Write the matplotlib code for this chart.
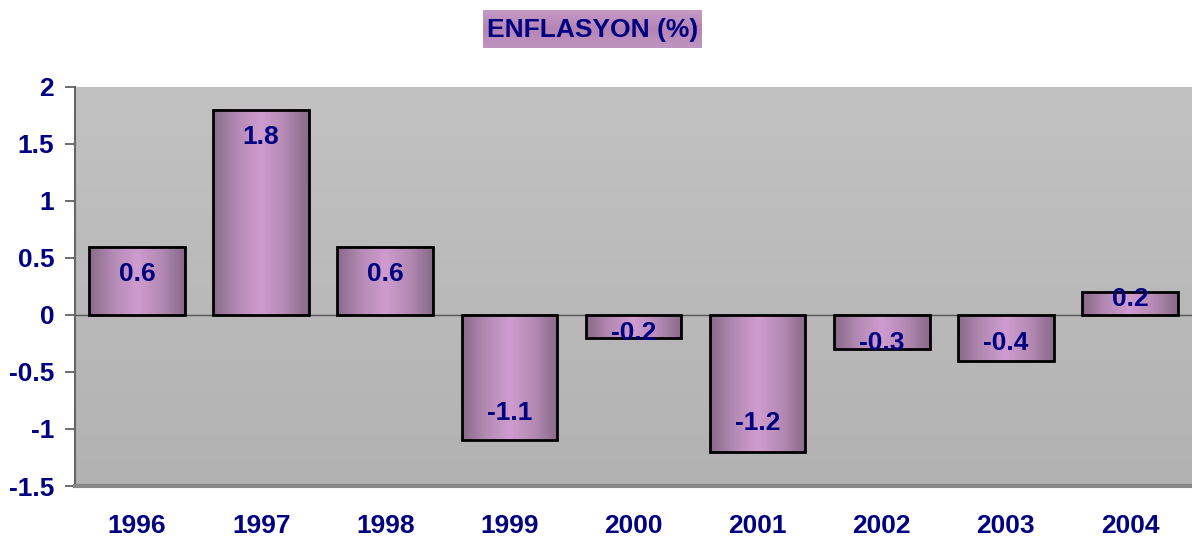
import matplotlib
matplotlib.use("Agg")
import matplotlib.pyplot as plt
import numpy as np
from matplotlib.colors import LinearSegmentedColormap

# Data
years = ["1996", "1997", "1998", "1999", "2000", "2001", "2002", "2003", "2004"]
values = [0.6, 1.8, 0.6, -1.1, -0.2, -1.2, -0.3, -0.4, 0.2]
yticks = [2, 1.5, 1, 0.5, 0, -0.5, -1, -1.5]

# where each value label sits relative to the bar end (data units)
label_offsets = [-0.24, -0.24, -0.24, 0.24, 0.04, 0.25, 0.05, 0.15, -0.06]

navy = "#000080"
plt.rcParams["font.family"] = ["Liberation Sans", "DejaVu Sans"]
plt.rcParams["font.weight"] = "bold"

fig = plt.figure(figsize=(11.92, 5.42), dpi=100)
ax = fig.add_axes([75 / 1192, 1 - 486 / 542, (1192 - 75) / 1192, (486 - 87) / 542])

x = np.arange(len(years))
ax.set_xlim(-0.5, len(years) - 0.5)
ax.set_ylim(-1.5, 2)

# plot area background: soft vertical gray gradient
bg = np.linspace(0, 1, 256).reshape(-1, 1)
bg_cmap = LinearSegmentedColormap.from_list("bg", ["#c2c2c2", "#b2b2b2"])
ax.imshow(bg, cmap=bg_cmap, extent=[0, 1, 0, 1], transform=ax.transAxes,
          aspect="auto", zorder=0, origin="upper")

# bars, then a horizontal purple gradient clipped into each one
bars = ax.bar(x, values, width=0.77, color="none", edgecolor="black", linewidth=2, zorder=3)
bar_cmap = LinearSegmentedColormap.from_list(
    "bar", ["#896a89", "#b48ab4", "#cf9ccf", "#b48ab4", "#896a89"])
grad = np.linspace(0, 1, 256).reshape(1, -1)
for b in bars:
    x0, y0 = b.get_x(), b.get_y()
    w, h = b.get_width(), b.get_height()
    ax.imshow(grad, cmap=bar_cmap, extent=[x0, x0 + w, y0, y0 + h],
              aspect="auto", zorder=2)

ax.axhline(0, color="#555555", linewidth=1, zorder=2.5)

# value labels near the inside end of each bar
for xi, v, off in zip(x, values, label_offsets):
    ax.text(xi, v + off, f"{v:g}", ha="center", va="center",
            fontsize=19, fontweight="bold", color=navy, zorder=4)

ax.set_xticks(x)
ax.set_xticklabels(years)
ax.set_yticks(yticks)
ax.set_yticklabels([f"{t:g}" for t in yticks])
ax.tick_params(axis="x", length=0, pad=20, labelsize=19, labelcolor=navy)
ax.tick_params(axis="y", length=7, width=1.2, color="#555555", pad=8,
               labelsize=19, labelcolor=navy)

for side in ["top", "right"]:
    ax.spines[side].set_visible(False)
ax.spines["left"].set_color("#666666")
ax.spines["left"].set_linewidth(1.5)
ax.spines["bottom"].set_color("#888888")
ax.spines["bottom"].set_linewidth(3)

# title inside a purple gradient box
tax = fig.add_axes([483 / 1192, 1 - 48 / 542, (702 - 483) / 1192, 38 / 542])
tax.axis("off")
tgrad = np.linspace(0, 1, 256).reshape(-1, 1)
title_cmap = LinearSegmentedColormap.from_list("t", ["#c49ac4", "#b585b5", "#bf95bf"])
tax.imshow(tgrad, cmap=title_cmap, extent=[0, 1, 0, 1], aspect="auto")
tax.text(0.5, 0.48, "ENFLASYON (%)", ha="center", va="center",
         fontsize=19, fontweight="bold", color=navy, transform=tax.transAxes)

fig.savefig("out.png", dpi=100)
